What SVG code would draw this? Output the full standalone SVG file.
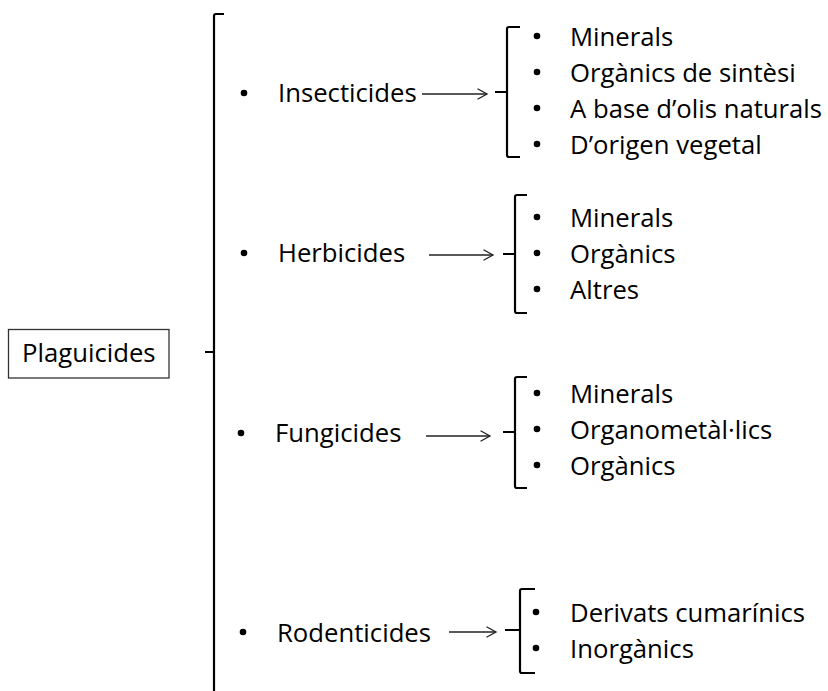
<svg xmlns="http://www.w3.org/2000/svg" width="828" height="691" viewBox="0 0 828 691">
<defs>
<style>
text{font-family:"Open Sans","Liberation Sans",sans-serif;font-size:25.7px;fill:#000}
.b{fill:#000}
.br{fill:none;stroke:#000;stroke-width:2.2;stroke-linejoin:round}
.ar{fill:none;stroke:#222;stroke-width:1.3}
</style>
<marker id="ah" markerUnits="userSpaceOnUse" markerWidth="14" markerHeight="14" refX="10.5" refY="6" orient="auto">
<path d="M1,0.8 L10.5,6 L1,11.2" fill="none" stroke="#222" stroke-width="1.3"/>
</marker>
</defs>
<rect width="828" height="691" fill="#fff"/>
<g id="connectors">
<path class="br" d="M224,14 H216 Q214,14 214,16 V691 M205,352 H214"/>
<line class="ar" x1="422" y1="94" x2="487" y2="94" marker-end="url(#ah)"/>
<path class="br" d="M520,27 H509 Q507,27 507,29 V155 Q507,157 509,157 H520 M495,92 H507"/>
<line class="ar" x1="429" y1="255" x2="493" y2="255" marker-end="url(#ah)"/>
<path class="br" d="M527,195 H517 Q515,195 515,197 V311 Q515,313 517,313 H527 M503,254 H515"/>
<line class="ar" x1="426" y1="436" x2="490" y2="436" marker-end="url(#ah)"/>
<path class="br" d="M527,377 H517 Q515,377 515,379 V486 Q515,488 517,488 H527 M503,432 H515"/>
<line class="ar" x1="449" y1="632" x2="496" y2="632" marker-end="url(#ah)"/>
<path class="br" d="M535,589 H522 Q520,589 520,591 V671 Q520,673 522,673 H535 M505,630 H520"/>
</g>
<g id="plaguicides">
<rect x="8.5" y="329.5" width="160.5" height="48.5" fill="#fff" stroke="#333" stroke-width="1.3"/>
<text x="22" y="362">Plaguicides</text>
</g>
<g id="insecticides">
<circle class="b" cx="244" cy="93" r="3.3"/>
<text x="278" y="102">Insecticides</text>
</g>
<g id="herbicides">
<circle class="b" cx="244" cy="253" r="3.3"/>
<text x="278" y="262">Herbicides</text>
</g>
<g id="fungicides">
<circle class="b" cx="241" cy="433" r="3.3"/>
<text x="275" y="442">Fungicides</text>
</g>
<g id="rodenticides">
<circle class="b" cx="243" cy="632" r="3.3"/>
<text x="277" y="642">Rodenticides</text>
</g>
<g id="insecticides-types">
<circle class="b" cx="537" cy="36" r="3.3"/><text x="570" y="46">Minerals</text>
<circle class="b" cx="537" cy="72" r="3.3"/><text x="570" y="82">Orgànics de sintèsi</text>
<circle class="b" cx="537" cy="108" r="3.3"/><text x="570" y="118">A base d’olis naturals</text>
<circle class="b" cx="537" cy="144" r="3.3"/><text x="570" y="154">D’origen vegetal</text>
</g>
<g id="herbicides-types">
<circle class="b" cx="537" cy="217" r="3.3"/><text x="570" y="227">Minerals</text>
<circle class="b" cx="537" cy="253" r="3.3"/><text x="570" y="263">Orgànics</text>
<circle class="b" cx="537" cy="289" r="3.3"/><text x="570" y="299">Altres</text>
</g>
<g id="fungicides-types">
<circle class="b" cx="537" cy="393" r="3.3"/><text x="570" y="403">Minerals</text>
<circle class="b" cx="537" cy="429" r="3.3"/><text x="570" y="439">Organometàl·lics</text>
<circle class="b" cx="537" cy="465" r="3.3"/><text x="570" y="475">Orgànics</text>
</g>
<g id="rodenticides-types">
<circle class="b" cx="536" cy="612" r="3.3"/><text x="570" y="622">Derivats cumarínics</text>
<circle class="b" cx="536" cy="648" r="3.3"/><text x="570" y="658">Inorgànics</text>
</g>
</svg>
